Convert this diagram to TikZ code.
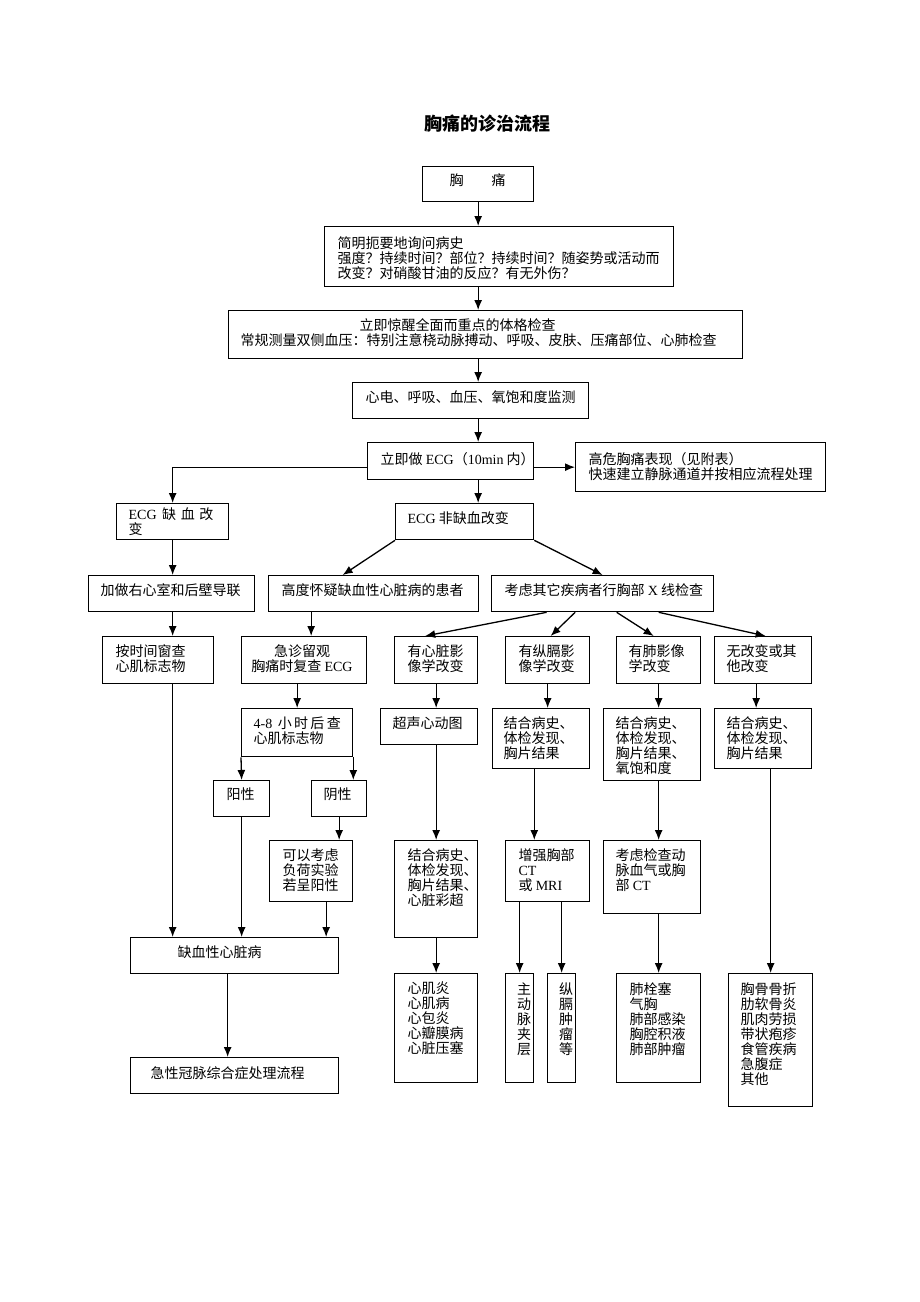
\documentclass[tikz,border=0pt]{standalone}
\usepackage{fontspec}
\setmainfont{Liberation Serif}
\newfontfamily\cjk{Noto Sans CJK SC}
\usetikzlibrary{arrows.meta}

\begin{document}
\begin{tikzpicture}[x=1pt, y=-1pt, line width=1.3pt, >={Latex[length=10pt,width=8pt]},
  box/.style={draw, inner sep=0pt, anchor=north west},
  txt/.style={inner sep=0pt, anchor=north west, align=left, font=\cjk\fontsize{14}{15}\selectfont},
  link/.style={->}]

\fill[white] (0,0) rectangle (920,1302);

\node[font=\cjk\bfseries\fontsize{18}{20}\selectfont] (title) at (487,124) {胸痛的诊治流程};

\node[box, minimum width=111pt, minimum height=35pt] (chest) at (422,166) {};
\node[box, minimum width=349pt, minimum height=60pt] (hist) at (324,226) {};
\node[box, minimum width=514pt, minimum height=48pt] (exam) at (228,310) {};
\node[box, minimum width=236pt, minimum height=36pt] (mon) at (352,382) {};
\node[box, minimum width=166pt, minimum height=37pt] (ecg) at (367,442) {};
\node[box, minimum width=250pt, minimum height=49pt] (risk) at (575,442) {};
\node[box, minimum width=112pt, minimum height=36pt] (isch) at (116,503) {};
\node[box, minimum width=138pt, minimum height=36pt] (nonisch) at (395,503) {};
\node[box, minimum width=166pt, minimum height=36pt] (leads) at (88,575) {};
\node[box, minimum width=210pt, minimum height=36pt] (suspect) at (268,575) {};
\node[box, minimum width=222pt, minimum height=36pt] (xray) at (491,575) {};
\node[box, minimum width=111pt, minimum height=47pt] (marker) at (102,636) {};
\node[box, minimum width=125pt, minimum height=47pt] (obs) at (241,636) {};
\node[box, minimum width=83pt, minimum height=47pt] (heartimg) at (394,636) {};
\node[box, minimum width=84pt, minimum height=47pt] (mediimg) at (505,636) {};
\node[box, minimum width=84pt, minimum height=47pt] (lungimg) at (616,636) {};
\node[box, minimum width=97pt, minimum height=47pt] (noimg) at (714,636) {};
\node[box, minimum width=111pt, minimum height=48pt] (trop) at (241,708) {};
\node[box, minimum width=97pt, minimum height=36pt] (echo) at (380,708) {};
\node[box, minimum width=97pt, minimum height=60pt] (medires) at (492,708) {};
\node[box, minimum width=97pt, minimum height=72pt] (lungres) at (603,708) {};
\node[box, minimum width=97pt, minimum height=60pt] (nores) at (714,708) {};
\node[box, minimum width=56pt, minimum height=36pt] (pos) at (213,780) {};
\node[box, minimum width=55pt, minimum height=36pt] (neg) at (311,780) {};
\node[box, minimum width=83pt, minimum height=61pt] (stress) at (269,840) {};
\node[box, minimum width=83pt, minimum height=97pt] (heartres) at (394,840) {};
\node[box, minimum width=84pt, minimum height=61pt] (ctmri) at (505,840) {};
\node[box, minimum width=97pt, minimum height=73pt] (abg) at (603,840) {};
\node[box, minimum width=208pt, minimum height=36pt] (ihd) at (130,937) {};
\node[box, minimum width=208pt, minimum height=36pt] (acs) at (130,1057) {};
\node[box, minimum width=83pt, minimum height=109pt] (heartdx) at (394,973) {};
\node[box, minimum width=28pt, minimum height=109pt] (aorta) at (505,973) {};
\node[box, minimum width=28pt, minimum height=109pt] (medtumor) at (547,973) {};
\node[box, minimum width=84pt, minimum height=109pt] (lungdx) at (616,973) {};
\node[box, minimum width=84pt, minimum height=133pt] (otherdx) at (728,973) {};

\node[txt] (chest-t) at (449,173) {胸　　痛};
\node[txt] (hist-t) at (337,236) {简明扼要地询问病史\\强度？持续时间？部位？持续时间？随姿势或活动而\\改变？对硝酸甘油的反应？有无外伤？};
\node[txt] (exam-t) at (240,318) {\hspace*{119pt}立即惊醒全面而重点的体格检查\\常规测量双侧血压：特别注意桡动脉搏动、呼吸、皮肤、压痛部位、心肺检查};
\node[txt] (mon-t) at (365,390) {心电、呼吸、血压、氧饱和度监测};
\node[txt] (ecg-t) at (380,452) {立即做 {\rmfamily ECG}（{\rmfamily 10min} 内）};
\node[txt] (risk-t) at (588,452) {高危胸痛表现（见附表）\\快速建立静脉通道并按相应流程处理};
\node[txt] (isch-t) at (128,507) {{\rmfamily ECG} \,缺\,\,血\,\,改\\变};
\node[txt] (nonisch-t) at (407,511) {{\rmfamily ECG} 非缺血改变};
\node[txt] (leads-t) at (100,583) {加做右心室和后壁导联};
\node[txt] (suspect-t) at (281,583) {高度怀疑缺血性心脏病的患者};
\node[txt] (xray-t) at (504,583) {考虑其它疾病者行胸部 {\rmfamily X} 线检查};
\node[txt] (marker-t) at (115,644) {按时间窗查\\心肌标志物};
\node[txt, anchor=north, align=center] (obs-t) at (302,644) {急诊留观\\胸痛时复查 {\rmfamily ECG}};
\node[txt] (heartimg-t) at (407,644) {有心脏影\\像学改变};
\node[txt] (mediimg-t) at (518,644) {有纵膈影\\像学改变};
\node[txt] (lungimg-t) at (628,644) {有肺影像\\学改变};
\node[txt] (noimg-t) at (726,644) {无改变或其\\他改变};
\node[txt] (trop-t) at (253,716) {{\rmfamily 4-8} \,小\,时\,后\,查\\心肌标志物};
\node[txt] (echo-t) at (392,716) {超声心动图};
\node[txt] (medires-t) at (503,716) {结合病史、\\体检发现、\\胸片结果};
\node[txt] (lungres-t) at (615,716) {结合病史、\\体检发现、\\胸片结果、\\氧饱和度};
\node[txt] (nores-t) at (726,716) {结合病史、\\体检发现、\\胸片结果};
\node[txt] (pos-t) at (226,787) {阳性};
\node[txt] (neg-t) at (323,787) {阴性};
\node[txt] (stress-t) at (282,848) {可以考虑\\负荷实验\\若呈阳性};
\node[txt] (heartres-t) at (407,848) {结合病史、\\体检发现、\\胸片结果、\\心脏彩超};
\node[txt] (ctmri-t) at (518,848) {增强胸部\\{\rmfamily CT}\\或 {\rmfamily MRI}};
\node[txt] (abg-t) at (615,848) {考虑检查动\\脉血气或胸\\部 {\rmfamily CT}};
\node[txt] (ihd-t) at (177,945) {缺血性心脏病};
\node[txt] (acs-t) at (150,1066) {急性冠脉综合症处理流程};
\node[txt] (heartdx-t) at (407,981) {心肌炎\\心肌病\\心包炎\\心瓣膜病\\心脏压塞};
\node[txt, anchor=north, align=center] (aorta-t) at (524,982) {主\\动\\脉\\夹\\层};
\node[txt, anchor=north, align=center] (medtumor-t) at (566,982) {纵\\膈\\肿\\瘤\\等};
\node[txt] (lungdx-t) at (629,982) {肺栓塞\\气胸\\肺部感染\\胸腔积液\\肺部肿瘤};
\node[txt] (otherdx-t) at (740,982) {胸骨骨折\\肋软骨炎\\肌肉劳损\\带状疱疹\\食管疾病\\急腹症\\其他};

\draw[link] (chest.south) -- (hist.north -| chest);
\draw[link] (hist.south -| chest) -- (exam.north -| chest);
\draw[link] (exam.south -| chest) -- (mon.north -| chest);
\draw[link] (mon.south -| chest) -- (ecg.north -| chest);
\draw[link] (ecg.east |- risk) -- (risk.west);
\draw[link] (ecg.west |- risk) -| (isch.north);
\draw[link] (ecg.south -| chest) -- (nonisch.north -| chest);
\draw[link] (nonisch.south west) -- ([xshift=-31pt]suspect.north);
\draw[link] (nonisch.south east) -- (xray.north);
\draw[link] (isch.south) -- (leads.north -| isch);
\draw[link] (leads.south -| isch) -- (marker.north -| isch);
\draw[link] ([xshift=7pt]obs.north |- suspect.south) -- ([xshift=7pt]obs.north);
\draw[link] ([xshift=-56pt]xray.south) -- ([xshift=-11pt]heartimg.north);
\draw[link] ([xshift=-27.5pt]xray.south) -- ([xshift=3pt]mediimg.north);
\draw[link] ([xshift=14pt]xray.south) -- ([xshift=-5pt]lungimg.north);
\draw[link] ([xshift=56pt]xray.south) -- ([xshift=2.5pt]noimg.north);
\draw[link] (marker.south -| isch) -- (ihd.north -| isch);
\draw[link] (obs.south -| trop) -- (trop.north);
\draw[link] (trop.south west) -- (pos.north);
\draw[link] (trop.south east) -- (trop.south east |- neg.north);
\draw[link] (pos.south) -- (pos.south |- ihd.north);
\draw[link] (neg.south) -- (neg.south |- stress.north);
\draw[link] ([xshift=15pt]stress.south) -- ([xshift=15pt]stress.south |- ihd.north);
\draw[link] ([xshift=-7pt]ihd.south) -- ([xshift=-7pt]acs.north);
\draw[link] (heartimg.south) -- (heartimg.south |- echo.north);
\draw[link] (echo.south -| heartimg) -- (heartres.north -| heartimg);
\draw[link] (heartres.south) -- (heartdx.north);
\draw[link] (mediimg.south) -- (mediimg.south |- medires.north);
\draw[link] (medires.south -| aorta.east) -- (ctmri.north -| aorta.east);
\draw[link] (aorta.north |- ctmri.south) -- (aorta.north);
\draw[link] (medtumor.north |- ctmri.south) -- (medtumor.north);
\draw[link] (lungimg.south) -- (lungimg.south |- lungres.north);
\draw[link] (lungres.south -| lungimg) -- (abg.north -| lungimg);
\draw[link] (abg.south -| lungdx) -- (lungdx.north);
\draw[link] ([xshift=-7pt]noimg.south) -- ([xshift=-7pt]nores.north);
\draw[link] (otherdx.north |- nores.south) -- (otherdx.north);

\end{tikzpicture}
\end{document}
